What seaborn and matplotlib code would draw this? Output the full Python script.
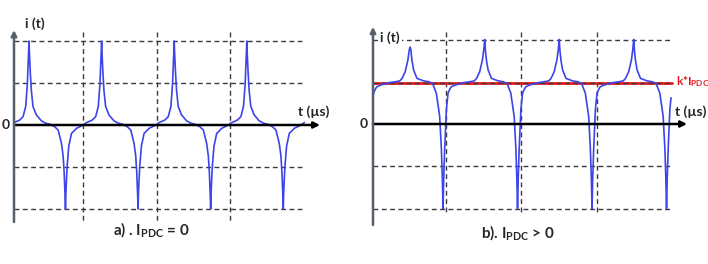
import numpy as np
import pandas as pd
import matplotlib
matplotlib.use("Agg")
import matplotlib.pyplot as plt
import seaborn as sns

# ---------------- data ----------------
# one period of panel a (time in periods, current in grid units)
t_a = [0.000, 0.030, 0.080, 0.125, 0.161, 0.175, 0.184, 0.193, 0.198, 0.203, 0.207,
       0.211, 0.216, 0.225, 0.239, 0.262, 0.308, 0.377, 0.440, 0.493, 0.560, 0.608,
       0.654, 0.677, 0.691, 0.700, 0.705, 0.709, 0.713, 0.720, 0.732, 0.755, 0.792,
       0.861, 0.953, 1.000]
i_a = [0.03, 0.04, 0.06, 0.10, 0.22, 0.38, 0.49, 0.70, 0.80, 0.93, 1.00,
       0.88, 0.78, 0.62, 0.41, 0.22, 0.12, 0.05, 0.02, 0.01, -0.02, -0.06,
       -0.22, -0.37, -0.57, -0.75, -0.88, -1.00, -0.85, -0.70, -0.49, -0.25, -0.10,
       -0.04, 0.00, 0.03]

# one period of panel b (up-spike tip given separately per period)
t_b = [0.000, 0.007, 0.030, 0.050, 0.100, 0.140, 0.220, 0.300, 0.360, 0.390,
       0.433, 0.469, 0.487, 0.500, 0.508, 0.522, 0.545, 0.590, 0.680, 0.750,
       0.800, 0.850, 0.895, 0.918, 0.930, 0.936, 0.940, 0.944, 0.950, 0.962,
       0.985, 1.000]
i_b = [0.31, 0.365, 0.41, 0.44, 0.46, 0.47, 0.49, 0.50, 0.51, 0.54,
       0.62, 0.76, 0.88, None, 0.88, 0.76, 0.64, 0.54, 0.51, 0.50,
       0.48, 0.365, 0.09, -0.30, -0.62, -0.85, -1.00, -0.85, -0.62, -0.30,
       0.17, 0.31]
peaks_b = [0.91, 1.00, 1.00, 1.00]
n_periods = 4

k_level = 0.49                      # k*I_PDC level in panel b
grid_y_a = [1.0, 0.5, -0.5, -1.0]
grid_x_a = [0.95, 1.97, 2.975]
grid_y_b = [1.0, 0.49, -0.5, -1.0]
grid_x_b = [0.98, 1.987, 3.007]

caption_a = r"a) . I$_{\mathrm{PDC}}$ = 0"
caption_b = r"b). I$_{\mathrm{PDC}}$ > 0"
label_k = r"k*I$_{\mathrm{PDC}}$"
label_i = "i (t)"
label_t = "t (µs)"

# ---------------- build series ----------------
ta, ia, tb, ib = [], [], [], []
for k in range(n_periods):
    ta += [k + t for t in t_a]
    ia += list(i_a)
    tb += [k + t for t in t_b]
    ib += [peaks_b[k] if v is None else v for v in i_b]
df_a = pd.DataFrame({"t": ta, "i": ia})
df_b = pd.DataFrame({"t": tb, "i": ib})

# ---------------- style ----------------
sns.set_theme(style="white")
plt.rcParams["font.family"] = ["Lato", "DejaVu Sans"]
plt.rcParams["font.weight"] = "bold"
plt.rcParams["mathtext.fontset"] = "custom"
plt.rcParams["mathtext.rm"] = "Lato:bold"
plt.rcParams["mathtext.it"] = "Lato:bold"
plt.rcParams["mathtext.bf"] = "Lato:bold"

W, H = 708, 264
fig = plt.figure(figsize=(W / 100, H / 100), dpi=100)
fig.patch.set_facecolor("white")

blue = "#3d44ea"
gridc = "#3a3a3a"
axisgray = "#56606b"
dash = (0, (3.5, 2.5))


def setup(ax, x0, y0, px_per_x, px_per_y, left_px, width_px):
    ax.set_xlim((left_px - x0) / px_per_x, (left_px + width_px - x0) / px_per_x)
    ax.set_ylim(-(H - y0) / px_per_y, y0 / px_per_y)
    ax.set_axis_off()


# panel a : origin (14,125) px, 72.6 px/period, 84 px/unit
ax_a = fig.add_axes([0, 0, 340 / W, 1])
setup(ax_a, 14, 125, 72.6, 84.0, 0, 340)
# panel b : origin (373,124) px, 74.5 px/period, 84.5 px/unit
ax_b = fig.add_axes([340 / W, 0, 368 / W, 1])
setup(ax_b, 373, 124, 74.5, 84.5, 340, 368)

# ---- panel a ----
for y in grid_y_a:
    ax_a.plot([0, 3.97], [y, y], color=gridc, lw=1.0, ls=dash, zorder=1)
for x in grid_x_a:
    ax_a.plot([x, x], [1.107, -1.155], color=gridc, lw=1.0, ls=dash, zorder=1)
sns.lineplot(data=df_a, x="t", y="i", ax=ax_a, color=blue, lw=1.2,
             estimator=None, sort=False, zorder=3)
ax_a.annotate("", xy=(4.215, 0), xytext=(0, 0),
              arrowprops=dict(arrowstyle="-|>", color="black", lw=1.8,
                              mutation_scale=9, shrinkA=0, shrinkB=0), zorder=4)
ax_a.annotate("", xy=(0, 1.13), xytext=(0, -1.155),
              arrowprops=dict(arrowstyle="-|>", color=axisgray, lw=1.8,
                              mutation_scale=8, shrinkA=0, shrinkB=0), zorder=4)
ax_a.text(0.15, 1.21, label_i, fontsize=10, fontweight="bold", ha="left", va="center")
ax_a.text(-0.12, 0.0, "0", fontsize=10, fontweight="bold", ha="center", va="center")
ax_a.text(3.91, 0.155, label_t, fontsize=10, fontweight="bold", ha="left", va="center")
ax_a.text(1.887, -1.25, caption_a, fontsize=11, fontweight="bold", ha="center", va="center")

# ---- panel b ----
for y in grid_y_b:
    ax_b.plot([0.0, 4.01], [y, y], color=gridc, lw=1.0, ls=dash, zorder=2)
for x in grid_x_b:
    ax_b.plot([x, x], [1.089, -1.077], color=gridc, lw=1.0, ls=dash, zorder=1)
ax_b.plot([0, 4.01], [k_level, k_level], color="#e8191e", lw=2.0, zorder=1.5)
sns.lineplot(data=df_b, x="t", y="i", ax=ax_b, color=blue, lw=1.2,
             estimator=None, sort=False, zorder=3)
ax_b.annotate("", xy=(4.215, 0), xytext=(0, 0),
              arrowprops=dict(arrowstyle="-|>", color="black", lw=1.8,
                              mutation_scale=9, shrinkA=0, shrinkB=0), zorder=4)
ax_b.annotate("", xy=(0, 1.15), xytext=(0, -1.195),
              arrowprops=dict(arrowstyle="-|>", color=axisgray, lw=1.8,
                              mutation_scale=8, shrinkA=0, shrinkB=0), zorder=4)
ax_b.text(0.094, 1.02, label_i, fontsize=10, fontweight="bold", ha="left", va="center",
          bbox=dict(facecolor="white", edgecolor="none", pad=1.5), zorder=5)
ax_b.text(-0.12, 0.0, "0", fontsize=10, fontweight="bold", ha="center", va="center")
ax_b.text(4.05, 0.142, label_t, fontsize=10, fontweight="bold", ha="left", va="center")
ax_b.text(4.065, 0.5, label_k, fontsize=8.5, fontweight="bold", color="#e8191e",
          ha="left", va="center")
ax_b.text(1.946, -1.29, caption_b, fontsize=11, fontweight="bold", ha="center", va="center")

fig.savefig("out.png", dpi=100, facecolor="white")
